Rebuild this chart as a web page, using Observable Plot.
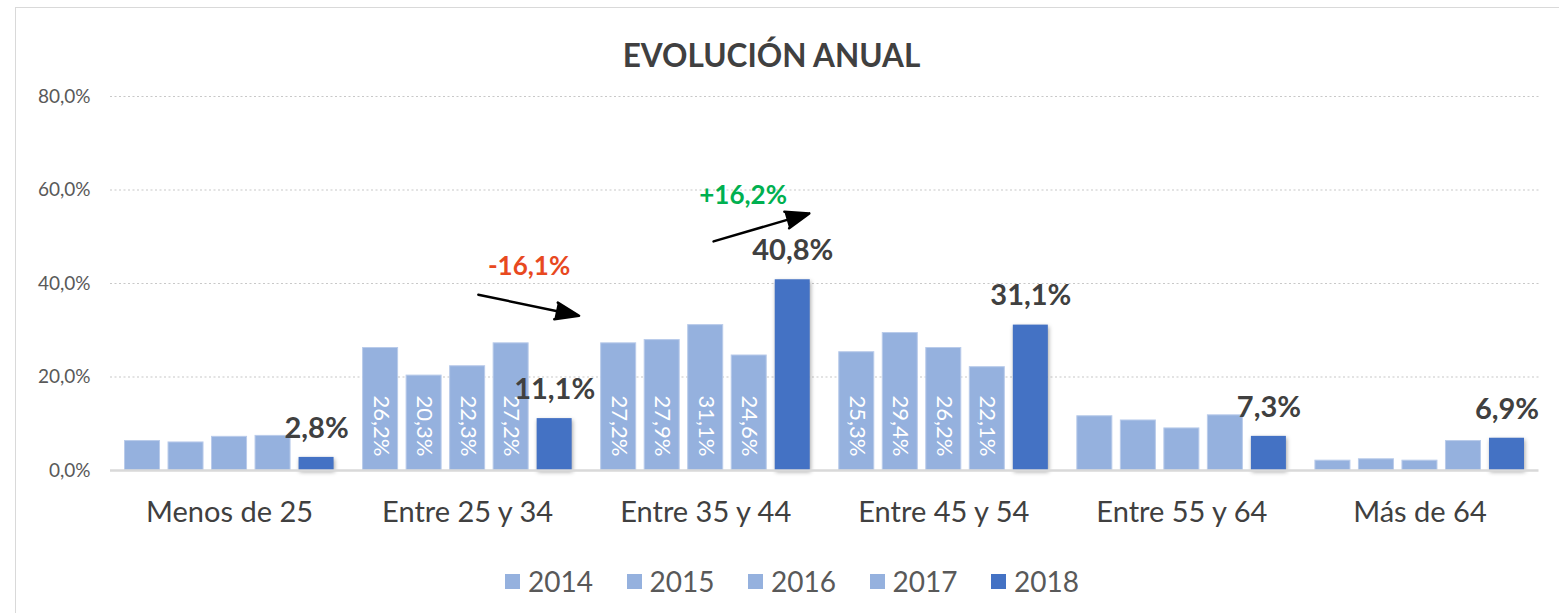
<!DOCTYPE html>
<html>
<head>
<meta charset="utf-8">
<script src="https://cdn.jsdelivr.net/npm/d3@7"></script>
<script src="https://cdn.jsdelivr.net/npm/@observablehq/plot@0.6"></script>
<style>
  html, body { margin: 0; padding: 0; background: #fff; }
  #wrap { position: relative; width: 1559px; height: 613px; overflow: hidden; background: #fff; font-family: Lato, "Open Sans", sans-serif; }
  #frame { position: absolute; left: 15px; top: 7px; width: 1600px; height: 700px; border: 1px solid #d9d9d9; box-sizing: border-box; }
  #title { position: absolute; left: 0; width: 1543px; top: 40px; text-align: center; font-size: 31.5px; line-height: 31.5px; font-weight: 700; color: #404040; }
  #chart { position: absolute; left: 0; top: 80px; }
  #legend { position: absolute; left: 505px; top: 567px; height: 28px; }
  .item { position: absolute; top: 0; display: flex; align-items: center; height: 28px; font-size: 28px; line-height: 28px; color: #595959; white-space: nowrap; }
  .sw { width: 15px; height: 15px; margin-right: 8px; }
  g.dark rect { filter: drop-shadow(1px 2px 2px rgba(0,0,0,0.35)); }
</style>
</head>
<body>
<div id="wrap">
  <div id="frame"></div>
  <div id="title">EVOLUCIÓN ANUAL</div>
  <div id="chart"></div>
  <div id="legend"></div>
</div>
<script>
// ---- data ----
const categories = ["Menos de 25", "Entre 25 y 34", "Entre 35 y 44", "Entre 45 y 54", "Entre 55 y 64", "Más de 64"];
const years = ["2014", "2015", "2016", "2017", "2018"];
const v2014 = [6.3, 26.2, 27.2, 25.3, 11.6, 2.1];
const v2015 = [6.0, 20.3, 27.9, 29.4, 10.7, 2.4];
const v2016 = [7.2, 22.3, 31.1, 26.2, 9.0, 2.1];
const v2017 = [7.4, 27.2, 24.6, 22.1, 11.8, 6.3];
const v2018 = [2.8, 11.1, 40.8, 31.1, 7.3, 6.9];
const yTicks = [0, 20, 40, 60, 80];
// annotation arrows (data units: x = category index, y = percent)
const changeLabels = ["-16,1%", "+16,2%"];
const changeArrowX1 = [1.045, 2.033];
const changeArrowY1 = [37.6, 49.0];
const changeArrowX2 = [1.468, 2.435];
const changeArrowY2 = [33.1, 55.0];
const changeLabelX = [1.258, 2.157];
const changeLabelY = [43.5, 58.8];

// ---- build ----
const series = [v2014, v2015, v2016, v2017, v2018];
const lightColor = "#95B1DE";
const darkColor = "#4472C4";
const step = 43.5 / 238;
const half = 17.5 / 238;
const fmt = v => v.toFixed(1).replace(".", ",") + "%";

const rows = categories.flatMap((c, i) => years.map((yr, j) => ({
  i, j, category: c, year: yr, value: series[j][i],
  xc: i + (j - 2) * step
})));
const light = rows.filter(d => d.j < 4);
const dark = rows.filter(d => d.j === 4);
const inner = light.filter(d => d.value > 15);
const changes = changeLabels.map((label, k) => ({
  label, x1: changeArrowX1[k], y1: changeArrowY1[k], x2: changeArrowX2[k], y2: changeArrowY2[k],
  lx: changeLabelX[k], ly: changeLabelY[k], up: label.startsWith("+")
}));

const chart = Plot.plot({
  width: 1559,
  height: 460,
  marginLeft: 110,
  marginRight: 20.5,
  marginTop: 16,
  marginBottom: 70,
  x: { domain: [-0.5, 5.5], axis: null },
  y: { domain: [0, 80], axis: null },
  style: { fontFamily: "Lato, 'Open Sans', sans-serif", background: "transparent", overflow: "visible" },
  marks: [
    Plot.gridY(yTicks.filter(t => t > 0), { stroke: "#c8c8c8", strokeOpacity: 1, strokeDasharray: "2,2.5", strokeWidth: 1.2 }),
    Plot.axisY({ ticks: yTicks, tickSize: 0, tickPadding: 20, tickFormat: fmt, fontSize: 19, color: "#595959", label: null }),
    Plot.axisX({ ticks: d3.range(categories.length), tickFormat: i => categories[i], tickSize: 0, tickPadding: 30.5, fontSize: 29, color: "#404040", label: null }),
    Plot.rectY(light, { x1: d => d.xc - half, x2: d => d.xc + half, y: "value", fill: lightColor, stroke: "#b9cbea", strokeWidth: 1 }),
    Plot.rectY(dark, { x1: d => d.xc - half, x2: d => d.xc + half, y: "value", fill: darkColor, className: "dark" }),
    Plot.ruleY([0], { stroke: "#d9d9d9", strokeWidth: 2.5 }),
    Plot.text(inner, { x: "xc", y: 0, text: d => fmt(d.value), rotate: 90, textAnchor: "end", dy: -14, fontSize: 22, fill: "white" }),
    Plot.text(dark, { x: "xc", y: "value", text: d => fmt(d.value), dy: -29, fontSize: 29, fontWeight: 700, fill: "#404040" }),
    Plot.arrow(changes, { x1: "x1", y1: "y1", x2: "x2", y2: "y2", stroke: "black", fill: "black", strokeWidth: 2.5, headLength: 15, headAngle: 40, strokeLinejoin: "miter" }),
    Plot.text(changes, { x: "lx", y: "ly", text: "label", fontSize: 26, fontWeight: 700, fill: d => d.up ? "#00B050" : "#E8491F" })
  ]
});
document.getElementById("chart").appendChild(chart);

// ---- legend ----
const legend = document.getElementById("legend");
years.forEach((yr, k) => {
  const item = document.createElement("div");
  item.className = "item";
  item.style.left = (k * 121.5) + "px";
  const sw = document.createElement("span");
  sw.className = "sw";
  sw.style.background = k === 4 ? darkColor : lightColor;
  const tx = document.createElement("span");
  tx.textContent = yr;
  item.appendChild(sw);
  item.appendChild(tx);
  legend.appendChild(item);
});
</script>
</body>
</html>
